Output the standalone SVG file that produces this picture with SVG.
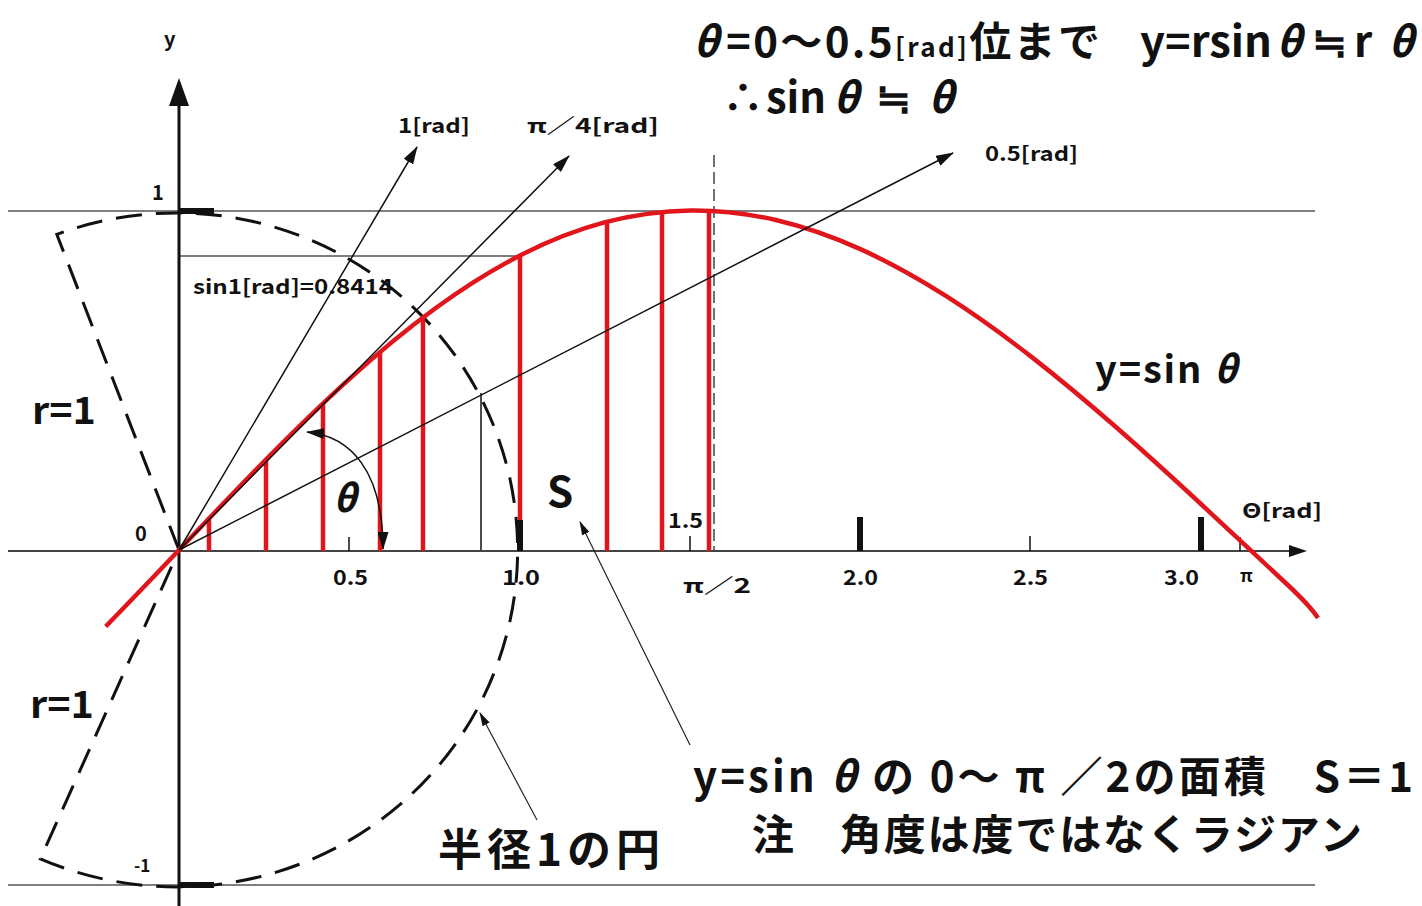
<svg xmlns="http://www.w3.org/2000/svg" width="1422" height="906" viewBox="0 0 1422 906">
<style>
  text { font-family: "Noto Sans CJK JP", "Liberation Sans", sans-serif; fill: #111; font-weight: 700; }
  .s { font-size: 20px; }
  .m { font-size: 38px; }
  .b { font-size: 42px; }
  .it { font-style: italic; }
  .thin { stroke: #111; stroke-width: 1.5; fill: none; }
  .grid { stroke: #555; stroke-width: 1.6; fill: none; }
  .red { stroke: #e0161c; stroke-width: 4.5; fill: none; }
  .tick { stroke: #111; stroke-width: 1.5; }
  .tk { stroke: #111; stroke-width: 6; }
</style>
<defs>
  <marker id="arr" markerUnits="userSpaceOnUse" markerWidth="18" markerHeight="11" viewBox="0 0 18 11" refX="17" refY="5.5" orient="auto-start-reverse">
    <path d="M0,0 L18,5.5 L0,11 z" fill="#111"/>
  </marker>
  <marker id="arrs" markerUnits="userSpaceOnUse" markerWidth="14" markerHeight="8" viewBox="0 0 14 8" refX="13" refY="4" orient="auto-start-reverse">
    <path d="M0,0 L14,4 L0,8 z" fill="#111"/>
  </marker>
</defs>
<rect width="1422" height="906" fill="#ffffff"/>

<g id="gridlines">
  <line class="grid" x1="8" y1="211" x2="1315" y2="211"/>
  <line class="grid" x1="8" y1="885" x2="1315" y2="885"/>
  <line class="grid" x1="179" y1="256" x2="518" y2="256"/>
  <line class="thin" x1="481" y1="393" x2="481" y2="551"/>
  <line x1="714" y1="155" x2="714" y2="551" stroke="#444" stroke-width="1.5" stroke-dasharray="12 5"/>
</g>

<g id="axes">
  <line x1="8" y1="551" x2="1290" y2="551" stroke="#444" stroke-width="2.2"/>
  <path d="M1307,551 L1289,545 L1289,557 z" fill="#111"/>
  <line x1="179" y1="100" x2="179" y2="906" stroke="#111" stroke-width="3"/>
  <path d="M179,78 L169,106 L189,106 z" fill="#111"/>
  <line class="tk" x1="179" y1="211" x2="214" y2="211" stroke-width="5"/>
  <line class="tk" x1="179" y1="885" x2="214" y2="885" stroke-width="5"/>
  <line class="tick" x1="349" y1="537" x2="349" y2="551"/>
  <line class="tk" x1="520" y1="520" x2="520" y2="551" stroke-width="5"/>
  <line class="tick" x1="690" y1="536" x2="690" y2="551"/>
  <line class="tk" x1="860" y1="517" x2="860" y2="551"/>
  <line class="tick" x1="1030" y1="536" x2="1030" y2="551"/>
  <line class="tk" x1="1201" y1="517" x2="1201" y2="551"/>
  <line class="tick" x1="1240" y1="537" x2="1240" y2="551"/>
</g>

<g id="circle">
  <path d="M179,550 L56.8,234.4 A341,337 0 1 1 40.3,858.8 Z" fill="none" stroke="#111" stroke-width="3" stroke-dasharray="26 14"/>
</g>

<g id="strips">
  <line class="red" x1="209" y1="551" x2="209" y2="518"/>
  <line class="red" x1="266" y1="551" x2="266" y2="459"/>
  <line class="red" x1="323" y1="551" x2="323" y2="403"/>
  <line class="red" x1="380" y1="551" x2="380" y2="352"/>
  <line class="red" x1="423" y1="551" x2="423" y2="317"/>
  <line class="red" x1="520" y1="520" x2="520" y2="255"/>
  <line class="red" x1="607" y1="551" x2="607" y2="221"/>
  <line class="red" x1="662" y1="551" x2="662" y2="211"/>
  <line class="red" x1="709" y1="551" x2="709" y2="210"/>
</g>

<g id="sine-curve">
  <path class="red" d="M105.7,626.5 C130.1,601.4 154.6,575.8 179,550 C207.4,520.1 235.8,490.1 264.25,461.25 C292.7,432.4 321.1,404.6 349.5,378.9 C377.9,353.2 406.3,329.6 434.75,308.8 C463.2,288 491.6,270.1 520,255.5 C548.4,240.9 576.8,229.8 605.25,222.2 C633.7,214.7 662.1,210.7 690.5,210.4 C718.9,210.1 747.3,213.4 775.75,220 C804.2,226.6 832.6,236.5 861,249.4 C889.4,262.3 917.8,278.1 946.25,296.2 C974.7,314.3 1003.1,334.8 1031.5,356.9 C1059.9,379.1 1088.3,402.9 1116.75,427.8 C1145.2,452.7 1173.6,478.7 1202,505 C1230.4,531.3 1258.8,558.1 1287.25,584.5 C1298.6,595.1 1310,605.8 1318,618"/>
</g>

<g id="connectors">
  <line class="thin" x1="179" y1="550" x2="417" y2="147" marker-end="url(#arr)"/>
  <line class="thin" x1="179" y1="550" x2="569" y2="156" marker-end="url(#arr)"/>
  <line class="thin" x1="179" y1="550" x2="953" y2="153" marker-end="url(#arr)"/>
  <path class="thin" d="M307,432 C350,436 383,470 383,549" marker-start="url(#arr)" marker-end="url(#arr)"/>
  <line x1="690" y1="745" x2="580" y2="522" stroke="#222" stroke-width="1.2" marker-end="url(#arrs)"/>
  <line x1="537" y1="820" x2="480" y2="713" stroke="#222" stroke-width="1.2" marker-end="url(#arrs)"/>
</g>

<g id="axis-labels">
  <text class="s" x="164" y="46">y</text>
  <text class="s" x="152" y="200">1</text>
  <text class="s" x="135" y="541">0</text>
  <text x="134" y="872" font-size="17">-1</text>
  <text class="s" x="333" y="585" textLength="35" lengthAdjust="spacingAndGlyphs">0.5</text>
  <text class="s" x="502" y="585" textLength="38" lengthAdjust="spacingAndGlyphs">1.0</text>
  <text class="s" x="668" y="528" textLength="35" lengthAdjust="spacingAndGlyphs">1.5</text>
  <text class="s" x="683" y="593" textLength="68" lengthAdjust="spacingAndGlyphs">π／2</text>
  <text class="s" x="843" y="585" textLength="35" lengthAdjust="spacingAndGlyphs">2.0</text>
  <text class="s" x="1013" y="585" textLength="35" lengthAdjust="spacingAndGlyphs">2.5</text>
  <text class="s" x="1164" y="585" textLength="35" lengthAdjust="spacingAndGlyphs">3.0</text>
  <text x="1240" y="582" font-size="18">π</text>
  <text class="s" x="1242" y="518" textLength="80" lengthAdjust="spacingAndGlyphs">Θ[rad]</text>
</g>

<g id="angle-labels">
  <text class="s" x="398" y="133" textLength="72" lengthAdjust="spacingAndGlyphs">1[rad]</text>
  <text class="s" x="527" y="133" textLength="132" lengthAdjust="spacingAndGlyphs">π／4[rad]</text>
  <text class="s" x="985" y="161" textLength="93" lengthAdjust="spacingAndGlyphs">0.5[rad]</text>
  <text class="s" x="193" y="294" textLength="200" lengthAdjust="spacingAndGlyphs">sin1[rad]=0.8414</text>
  <text class="m it" x="333" y="512" font-weight="400">θ</text>
  <text class="b" x="547" y="507">S</text>
</g>

<g id="radius-labels">
  <text class="m" x="32" y="424" textLength="64" lengthAdjust="spacingAndGlyphs">r=1</text>
  <text class="m" x="30" y="718" textLength="64" lengthAdjust="spacingAndGlyphs">r=1</text>
  <text x="438" y="866" font-size="44" textLength="222">半径1の円</text>
</g>

<g id="curve-label">
  <text class="m" x="1095" y="383" textLength="142">y=sin <tspan class="it">θ</tspan></text>
</g>

<g id="title">
  <text class="b it" x="693" y="57">θ</text>
  <text class="b" x="726" y="57" textLength="374">=0～0.5<tspan font-size="26">[rad]</tspan>位まで</text>
  <text class="b" x="1140" y="57" textLength="132" lengthAdjust="spacingAndGlyphs">y=rsin</text>
  <text class="b it" x="1276" y="57">θ</text>
  <text class="b" x="1312" y="57">≒</text>
  <text class="b" x="1354" y="57">r</text>
  <text class="b it" x="1388" y="57">θ</text>
  <text class="b" x="722" y="113">∴</text>
  <text class="b" x="766" y="113" textLength="60" lengthAdjust="spacingAndGlyphs">sin</text>
  <text class="b it" x="833" y="113">θ</text>
  <text class="b" x="876" y="113">≒</text>
  <text class="b it" x="928" y="113">θ</text>
</g>

<g id="notes">
  <text class="b" x="693" y="792" textLength="720">y=sin <tspan class="it">θ</tspan> の 0～ π ／2の面積　S＝1</text>
  <text class="b" x="752" y="850" textLength="610">注　角度は度ではなくラジアン</text>
</g>
</svg>
